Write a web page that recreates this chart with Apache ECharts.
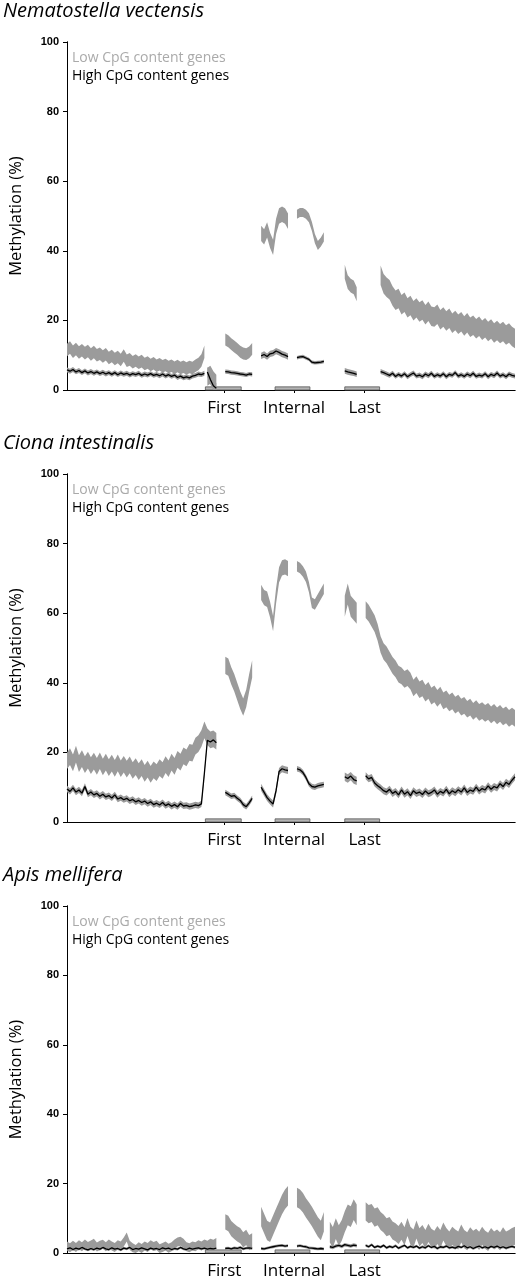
<!DOCTYPE html>
<html>
<head>
<meta charset="utf-8">
<script src="https://cdn.jsdelivr.net/npm/echarts@6/dist/echarts.min.js"></script>
<style>html,body{margin:0;padding:0;background:#fff}#c{width:518px;height:1280px}</style>
</head>
<body>
<div id="c"></div>
<script>
// ---- shared metagene layout (x in plot units 0..450) ----
const X_STEP = 3;
const exonLabels = ['First', 'Internal', 'Last'];
const exonLabelPos = [158, 228, 299];
const exonBoxStart = [139, 209, 279];
const exonBoxEnd = [175, 244, 314];
const exonBoxHeight = 0.9;
const species = ['Nematostella vectensis', 'Ciona intestinalis', 'Apis mellifera'];

// ---- Nematostella vectensis ----
const nvStarts = [0, 141, 159, 195, 231, 279, 315];
const nvLow = [
  [11.5,12.2,11.0,11.8,10.8,11.4,10.6,11.2,10.2,10.9,
   10.0,10.4,9.6,10.3,9.2,9.8,8.9,9.5,8.6,9.9,
   8.4,8.8,8.0,8.5,7.8,8.3,7.5,7.9,7.2,7.7,
   7.0,7.4,6.8,7.2,6.6,7.0,6.4,6.9,6.3,6.7,
   6.2,6.6,6.3,7.0,7.5,8.5,11.0],
  [3.8,4.4,2.8,1.8],
  [14.5,14.0,13.2,12.5,11.8,11.0,10.5,10.3,10.8,11.8],
  [45,44,46,43,41,47,50,50.5,50,48.5],
  [50.5,51,51,50.5,49.5,47,43.5,41.5,42.5,44],
  [34,31,30,29.5,27.5],
  [33,30.5,29.5,28.8,27.0,25.8,26.3,24.5,25.2,23.6,
   24.3,22.8,23.6,22.4,23.0,21.6,22.6,21.2,21.0,21.8,
   20.2,21.0,19.8,20.6,19.2,20.0,18.9,19.6,18.4,19.3,
   18.0,18.6,17.6,18.3,17.2,17.9,16.8,17.5,16.4,17.1,
   16.2,16.8,15.8,16.4,15.4,14.8]
];
const nvLowHW = [1.8, 2.6, 1.7, 2.2, 1.3, 2.0, 2.8];
const nvHigh = [
  [5.8,5.4,5.9,5.2,5.6,5.0,5.5,4.9,5.3,4.8,
   5.2,4.7,5.1,4.6,5.0,4.5,5.0,4.4,4.9,4.5,
   4.8,4.3,4.7,4.4,4.8,4.2,4.6,4.3,4.7,4.2,
   4.5,4.1,4.6,4.0,4.4,3.9,4.3,3.6,4.0,3.5,
   3.8,3.5,4.0,4.2,4.6,4.4,4.8],
  [5.2,3.0,1.2,0.5],
  [5.3,5.2,5.0,4.9,4.8,4.6,4.5,4.3,4.6,4.5],
  [9.8,10.2,9.6,10.4,10.6,11.2,10.8,10.3,10.0,9.6],
  [9.3,9.5,9.6,9.2,8.8,8.0,7.8,7.9,8.0,8.2],
  [5.5,5.2,5.0,4.8,4.5],
  [5.3,5.0,4.6,4.2,4.8,3.9,4.5,4.0,4.7,3.8,
   4.4,4.9,4.0,4.3,3.8,4.6,4.1,4.8,3.9,4.4,
   4.0,4.7,3.8,4.5,4.2,5.0,4.0,4.4,3.9,4.6,
   4.1,4.8,3.9,4.3,4.0,4.7,3.8,4.5,4.1,4.9,
   4.0,4.4,3.8,4.6,4.2,4.0]
];
const nvHighHW = [0.7, 1.5, 0.6, 0.9, 0.5, 0.8, 0.7];

// ---- Ciona intestinalis ----
const ciStarts = [0, 159, 195, 231, 279, 300];
const ciLow = [
  [17.6,18.8,17.0,19.5,16.8,18.2,16.5,17.8,16.2,17.5,
   16.0,17.6,15.8,17.2,15.6,16.9,15.4,17.0,15.3,16.6,
   15.2,16.4,14.8,15.9,14.5,15.6,14.0,15.2,13.7,15.0,
   14.2,15.6,14.8,16.5,15.3,17.2,16.0,18.0,17.2,19.0,
   18.4,20.0,19.8,21.8,22.5,24.0,26.5,24.5,23.6,23.9,23.2],
  [45,44.5,42,40,37.5,35,33,35.5,40,44],
  [66,64.5,64,61,57,65,71,73,73.3,72.8],
  [73.5,73,72,70.5,67.5,63,62.5,64,65.5,67],
  [62,65.5,62,61,60],
  [61,60,58.5,57,54.5,51,49,48,46.5,45,
   44,42.5,42,41,41.5,40.5,38.5,39.5,38,38.5,
   37,37.8,36.2,36.8,35.5,36.5,34.8,35.4,34.2,34.8,
   33.6,34.2,33.0,33.5,32.4,33.0,31.8,32.6,31.5,32.0,
   31.2,31.8,30.8,31.5,30.5,31.2,30.2,30.8,29.8,30.4,29.8]
];
const ciLowHW = [2.4, 2.5, 2.2, 1.5, 3.0, 2.4];
const ciHigh = [
  [9.5,8.8,9.8,8.6,9.2,8.3,10.2,8.0,8.6,7.8,
   8.2,7.4,8.0,7.2,7.6,6.9,7.8,6.6,7.0,6.4,
   6.8,6.1,6.5,5.8,6.2,5.6,6.0,5.3,5.8,5.0,
   5.4,4.9,5.6,4.7,5.2,4.5,5.0,4.4,5.3,4.6,
   4.8,4.4,4.6,4.9,4.7,5.2,14.0,23.5,23.0,23.6,22.8],
  [8.5,8.0,7.4,7.6,6.8,6.2,5.0,4.4,5.5,6.8],
  [10,8.5,7,6,5.2,9,14.5,15.3,15,14.8],
  [15.3,15.0,14.2,12.8,11.0,10.2,10.0,10.4,10.6,10.8],
  [13,12.5,13.2,12.2,11.8],
  [13.3,12.4,12.8,11.2,10.4,9.8,9.0,8.6,9.4,8.2,
   8.8,7.8,9.2,8.0,8.7,7.6,9.0,8.2,8.6,7.9,
   8.9,8.1,8.5,9.2,8.0,8.8,8.3,9.4,8.1,9.0,
   8.4,9.3,8.6,9.8,8.5,9.2,8.8,10.0,8.9,9.6,
   9.2,10.4,9.4,10.2,9.8,11.0,10.2,11.4,10.8,12.0,13.0]
];
const ciHighHW = [0.9, 0.8, 1.0, 0.8, 1.2, 1.0];

// ---- Apis mellifera ----
const amStarts = [0, 159, 195, 231, 264, 300];
const amLow = [
  [2.0,1.5,2.2,1.6,2.4,1.8,2.6,1.9,2.3,2.8,
   1.7,2.2,2.5,1.8,2.6,2.0,1.6,2.4,2.0,3.2,
   4.6,2.2,1.5,1.0,1.8,1.3,2.0,1.6,2.4,1.9,
   2.2,1.2,1.6,2.0,1.4,1.8,2.6,3.2,3.4,2.8,
   1.8,1.5,2.0,1.8,2.4,2.0,2.6,2.2,2.8,2.5,3.0],
  [9,8.5,7,6.2,5.5,5,3.8,4.5,3.0,3.5],
  [10.5,8.5,6.5,6,8,10,12,14,15.5,16.5],
  [16,15.5,14.5,13,11.8,10.5,9,7.5,6.5,9],
  [6,4.5,7,5,6.5,9,11,10.5,12.5,11],
  [12.0,11.2,11.5,10.2,10.6,9.2,8.5,7.4,7.8,6.5,
   6.0,5.2,6.4,4.8,7.5,5.0,4.2,6.8,4.5,5.5,
   4.0,5.8,4.4,3.8,5.2,4.0,6.2,4.6,3.6,5.0,
   4.2,3.6,5.6,4.0,3.4,4.8,3.8,4.4,3.5,5.0,
   3.8,3.2,4.6,3.6,4.2,3.4,4.8,3.6,4.0,4.6,5.0]
];
const amLowHW = [1.3, 2.2, 2.8, 2.8, 3.0, 2.6];
const amHigh = [
  [1.2,1.5,1.0,1.4,1.1,1.6,1.2,0.9,1.3,1.0,
   1.4,1.1,1.6,1.2,1.0,1.5,1.1,1.3,0.9,1.4,
   1.2,1.6,1.0,1.3,1.1,1.5,1.2,0.9,1.4,1.1,
   1.3,1.0,1.5,1.2,1.4,1.0,1.3,1.1,1.6,1.2,
   1.0,1.4,1.1,1.3,1.5,1.2,1.4,1.1,1.3,1.2,1.4],
  [1.3,1.4,1.2,1.5,1.3,1.6,1.2,1.4,1.5,1.3],
  [1.3,1.2,1.4,1.6,1.8,2.0,2.1,2.2,2.0,2.1],
  [2.0,2.1,1.9,1.8,1.5,1.4,1.3,1.2,1.3,1.2],
  [1.8,1.6,2.0,2.2,1.9,2.4,2.2,2.0,2.3,2.1],
  [2.2,1.8,2.4,1.6,2.0,1.7,2.2,1.5,1.9,1.6,
   2.1,1.4,1.8,2.2,1.5,1.9,1.6,2.0,1.4,1.8,
   1.5,2.1,1.6,1.9,1.3,1.8,1.6,2.0,1.5,1.7,
   1.4,1.9,1.6,2.1,1.5,1.8,1.3,1.7,2.0,1.5,
   1.8,1.4,1.9,1.6,2.0,1.5,1.8,1.4,1.7,1.9,1.6]
];
const amHighHW = [0.4, 0.4, 0.4, 0.4, 0.5, 0.4];

const panels = [
  {starts: nvStarts, low: nvLow, lowHW: nvLowHW, high: nvHigh, highHW: nvHighHW},
  {starts: ciStarts, low: ciLow, lowHW: ciLowHW, high: ciHigh, highHW: ciHighHW},
  {starts: amStarts, low: amLow, lowHW: amLowHW, high: amHigh, highHW: amHighHW}
];

const LOW_NAME = 'Low CpG content genes';
const HIGH_NAME = 'High CpG content genes';
const PANEL_STEP = 432;
const GRID_TOP = 42;
const GRID_H = 348;

function bandSeries(p, vals, hws, g, name, color, z) {
  return {
    type: 'custom', name: name, xAxisIndex: g * 2, yAxisIndex: g * 2,
    coordinateSystem: 'cartesian2d', silent: true, z: z,
    data: p.starts.map((s, k) => [s, 0, k]),
    encode: {x: 0, y: 1},
    renderItem: function (params, api) {
      const k = api.value(2);
      const arr = vals[k], hw = hws[k], x0 = p.starts[k];
      const up = [], dn = [];
      arr.forEach((v, j) => {
        up.push(api.coord([x0 + j * X_STEP, v + hw]));
        dn.push(api.coord([x0 + j * X_STEP, Math.max(0, v - hw)]));
      });
      return {type: 'polygon', shape: {points: up.concat(dn.reverse())}, style: {fill: color}};
    }
  };
}

const grids = [], xAxes = [], yAxes = [], series = [], titles = [], legends = [];
panels.forEach((p, g) => {
  const top = GRID_TOP + g * PANEL_STEP;
  grids.push({left: 65, width: 450, top: top, height: GRID_H});
  titles.push({text: species[g], left: 3, top: 1 + g * PANEL_STEP, padding: 0,
    textStyle: {fontFamily: 'Open Sans', fontStyle: 'italic', fontWeight: 'normal', fontSize: 20, color: '#000'}});
  legends.push({left: 67, top: top + 9, orient: 'vertical', padding: 0, itemWidth: 0, itemHeight: 0, itemGap: 4,
    selectedMode: false,
    textStyle: {fontFamily: 'Open Sans', fontSize: 14},
    data: [{name: LOW_NAME, icon: 'rect', textStyle: {color: '#aaaaaa'}},
           {name: HIGH_NAME, icon: 'rect', textStyle: {color: '#000'}}]});
  xAxes.push({gridIndex: g, type: 'value', min: 0, max: 450, position: 'bottom',
    axisLine: {show: true, lineStyle: {color: '#444', width: 1}},
    axisTick: {show: false}, splitLine: {show: false},
    axisLabel: {customValues: exonLabelPos, margin: 10, fontFamily: 'Open Sans', fontSize: 17, color: '#000',
      formatter: v => exonLabels[exonLabelPos.indexOf(v)] || ''}});
  xAxes.push({gridIndex: g, type: 'value', min: 0, max: 450, position: 'top',
    axisLine: {show: true, lineStyle: {color: '#000', width: 1}},
    axisTick: {show: true, inside: true, length: 3, customValues: exonLabelPos, lineStyle: {color: '#000'}},
    axisLabel: {show: false}, splitLine: {show: false}});
  yAxes.push({gridIndex: g, type: 'value', min: 0, max: 100, interval: 20, position: 'left',
    axisLine: {show: true, lineStyle: {color: '#000', width: 1}},
    axisTick: {show: true, length: 3, lineStyle: {color: '#000'}},
    axisLabel: {margin: 8, fontFamily: 'Liberation Sans', fontWeight: 'bold', fontSize: 11, color: '#000'},
    splitLine: {show: false},
    name: 'Methylation (%)', nameLocation: 'middle', nameGap: 42,
    nameTextStyle: {fontFamily: 'Open Sans', fontSize: 16.5, color: '#000'}});
  yAxes.push({gridIndex: g, type: 'value', min: 0, max: 100, interval: 20, position: 'right',
    axisLine: {show: true, lineStyle: {color: '#000', width: 1}},
    axisTick: {show: true, inside: true, length: 4, lineStyle: {color: '#000'}},
    axisLabel: {show: false}, splitLine: {show: false}});

  // exon boxes
  series.push({
    type: 'custom', name: 'exons', xAxisIndex: g * 2, yAxisIndex: g * 2, silent: true, z: 1,
    data: exonBoxStart.map((s, k) => [s, exonBoxEnd[k], exonBoxHeight]),
    encode: {x: [0, 1], y: 2},
    renderItem: function (params, api) {
      const a = api.coord([api.value(0), api.value(2)]);
      const b = api.coord([api.value(1), 0]);
      return {type: 'rect', shape: {x: a[0], y: a[1], width: b[0] - a[0], height: b[1] - a[1]},
        style: {fill: '#b3b3b3', stroke: '#555', lineWidth: 0.8}};
    }
  });
  series.push(bandSeries(p, p.low, p.lowHW, g, LOW_NAME, '#9b9b9b', 2));
  series.push(bandSeries(p, p.high, p.highHW, g, 'High CI', '#9b9b9b', 3));
  p.high.forEach((arr, k) => {
    series.push({type: 'line', name: HIGH_NAME, xAxisIndex: g * 2, yAxisIndex: g * 2, z: 4,
      showSymbol: false, silent: true, color: '#000',
      lineStyle: {color: '#000', width: 1.3},
      data: arr.map((v, j) => [p.starts[k] + j * X_STEP, v])});
  });
});

const chart = echarts.init(document.getElementById('c'), null, {renderer: 'canvas'});
chart.setOption({
  animation: false,
  backgroundColor: '#fff',
  title: titles, legend: legends, grid: grids, xAxis: xAxes, yAxis: yAxes, series: series
});
</script>
</body>
</html>
